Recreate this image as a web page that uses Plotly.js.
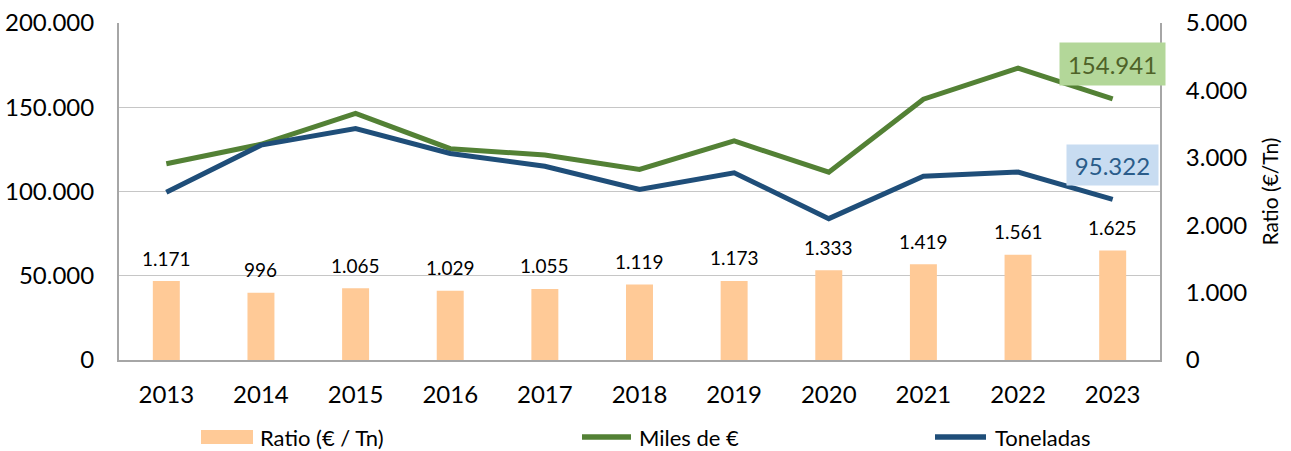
<!DOCTYPE html>
<html>
<head>
<meta charset="utf-8">
<script src="https://cdn.plot.ly/plotly-3.0.1.min.js"></script>
<style>html,body{margin:0;padding:0;background:#fff;}#chart{width:1291px;height:451px;}</style>
</head>
<body>
<div id="chart"></div>
<script>
// ---- data ----
const years = ["2013","2014","2015","2016","2017","2018","2019","2020","2021","2022","2023"];
const ratio = [1171, 996, 1065, 1029, 1055, 1119, 1173, 1333, 1419, 1561, 1625];
const milesEuro = [116500, 128000, 146400, 125400, 121600, 113100, 130000, 111500, 154800, 173200, 154941];
const toneladas = [99600, 127500, 137300, 122600, 115000, 101200, 111100, 83900, 109100, 111500, 95322];
const seriesNames = ["Ratio (€ / Tn)", "Miles de €", "Toneladas"];
const leftTicks = [0, 50000, 100000, 150000, 200000];
const rightTicks = [0, 1000, 2000, 3000, 4000, 5000];

function fmt(v){ return String(Math.round(v)).replace(/\B(?=(\d{3})+(?!\d))/g, "."); }

const FONT = "Lato, 'Open Sans', sans-serif";
const cBar = "#FFCA97", cGreen = "#538135", cBlue = "#1F4E79";

const traces = [
  {type:"bar", x:years, y:ratio, yaxis:"y2", name:seriesNames[0], marker:{color:cBar}, showlegend:false, hoverinfo:"x+y"},
  {type:"scatter", mode:"lines", x:years, y:milesEuro, yaxis:"y", name:seriesNames[1], line:{color:cGreen, width:5}, showlegend:false},
  {type:"scatter", mode:"lines", x:years, y:toneladas, yaxis:"y", name:seriesNames[2], line:{color:cBlue, width:5}, showlegend:false}
];

const annotations = [];
// bar value labels (category axis: x given as category index)
years.forEach((yr,i)=>{
  annotations.push({x:i, y:ratio[i], xref:"x", yref:"y2", text:fmt(ratio[i]), showarrow:false,
    yanchor:"middle", yshift:23, font:{family:FONT, size:19, color:"#000"}});
});
// last-point labels
const last = years.length-1;
annotations.push({x:last, y:milesEuro[last], xref:"x", yref:"y", text:fmt(milesEuro[last]), showarrow:false,
  yshift:35, xshift:0, width:105, height:42, borderpad:0, bgcolor:"#B3D799", font:{family:FONT, size:24, color:"#4F6228"}});
annotations.push({x:last, y:toneladas[last], xref:"x", yref:"y", text:fmt(toneladas[last]), showarrow:false,
  yshift:34, xshift:0, width:91, height:40, borderpad:0, bgcolor:"#C8DCF1", font:{family:FONT, size:24, color:"#2A5C8A"}});

// custom legend
const W = 1041, H = 337, L = 119, B = 360;
const px = v => (v - L)/W, py = v => (B - v)/H;
const shapes = [
  {type:"rect", xref:"paper", yref:"paper", x0:px(201), x1:px(253), y0:py(444), y1:py(430), fillcolor:cBar, line:{width:0}},
  {type:"line", xref:"paper", yref:"paper", x0:px(582), x1:px(631), y0:py(437), y1:py(437), line:{color:cGreen, width:5.5}},
  {type:"line", xref:"paper", yref:"paper", x0:px(935), x1:px(986), y0:py(437), y1:py(437), line:{color:cBlue, width:5.5}}
];
[[258,0],[637,1],[993,2]].forEach(([x,i])=>{
  annotations.push({xref:"paper", yref:"paper", x:px(x), y:py(437), xanchor:"left", yanchor:"middle", showarrow:false,
    text:seriesNames[i], font:{family:FONT, size:22, color:"#000"}});
});

const layout = {
  width:1291, height:451,
  margin:{l:119, r:131, t:23, b:91},
  paper_bgcolor:"#fff", plot_bgcolor:"#fff",
  separators:",.",
  font:{family:FONT, color:"#000"},
  bargap:0.715,
  showlegend:false,
  xaxis:{type:"category", range:[-0.5, years.length-0.5], showline:true, linecolor:"#A6A6A6", linewidth:2, ticks:"", ticklabelstandoff:12,
    tickfont:{family:FONT, size:24, color:"#000"}, fixedrange:true},
  yaxis:{range:[0,200000], tickvals:leftTicks, ticktext:leftTicks.map(fmt), showgrid:true, gridcolor:"#C6C6C6", gridwidth:1.3,
    zeroline:false, showline:true, linecolor:"#A6A6A6", linewidth:2, ticks:"", ticklabelstandoff:18,
    tickfont:{family:FONT, size:24, color:"#000"}},
  yaxis2:{range:[0,5000], overlaying:"y", side:"right", tickvals:rightTicks, ticktext:rightTicks.map(fmt), showgrid:false,
    zeroline:false, showline:true, linecolor:"#A6A6A6", linewidth:2, ticks:"", ticklabelstandoff:19,
    tickfont:{family:FONT, size:24, color:"#000"},
    title:{text:"Ratio (€/Tn)", font:{family:FONT, size:21, color:"#000"}, standoff:17}},
  annotations:annotations,
  shapes:shapes
};
Plotly.newPlot("chart", traces, layout, {displayModeBar:false, staticPlot:true});
</script>
</body>
</html>
